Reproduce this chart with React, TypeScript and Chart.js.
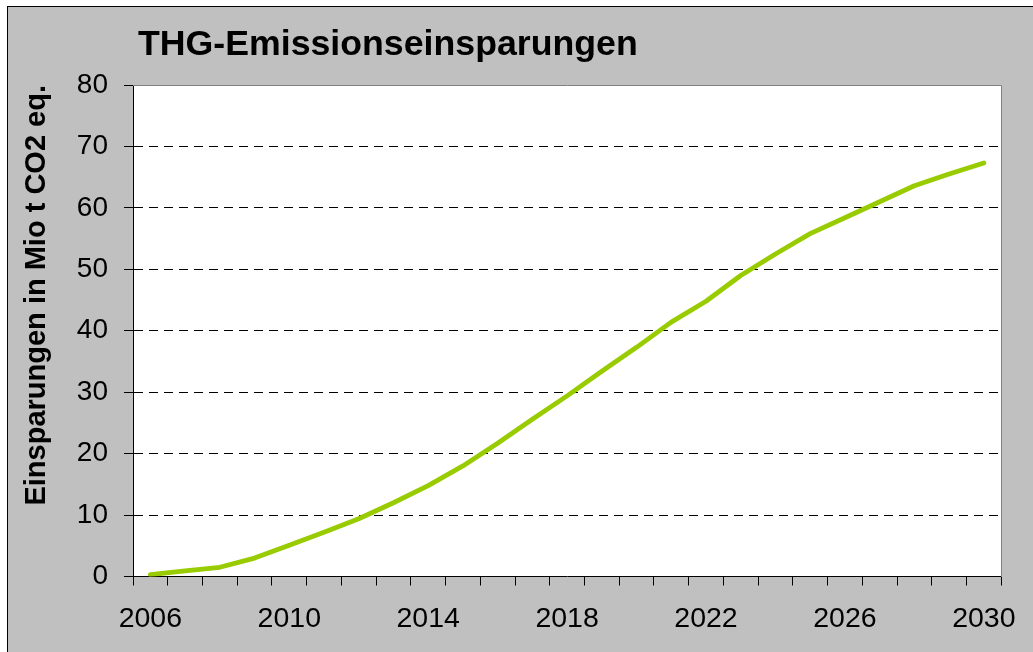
import React, { useEffect, useRef } from "react";
import { Chart, registerables } from "chart.js";

Chart.register(...registerables);

const CHART_TITLE = "THG-Emissionseinsparungen";
const Y_AXIS_TITLE = "Einsparungen in Mio t CO2 eq.";

const years = [
  2006, 2007, 2008, 2009, 2010, 2011, 2012, 2013, 2014, 2015, 2016, 2017, 2018,
  2019, 2020, 2021, 2022, 2023, 2024, 2025, 2026, 2027, 2028, 2029, 2030,
];

const savings = [
  0.3, 0.9, 1.5, 3.0, 5.1, 7.2, 9.4, 12.0, 14.8, 18.0, 21.7, 25.6, 29.4, 33.4,
  37.3, 41.4, 44.8, 49.0, 52.5, 55.8, 58.4, 61.0, 63.6, 65.5, 67.3,
];

const shownYearLabels = ["2006", "2010", "2014", "2018", "2022", "2026", "2030"];

const yMin = 0;
const yMax = 80;
const yStep = 10;

const FONT = "'Liberation Sans', Arial, sans-serif";

const plotDecor = {
  id: "plotDecor",
  beforeDraw(chart: any) {
    const { ctx, chartArea: a } = chart;
    ctx.save();
    ctx.fillStyle = "#ffffff";
    ctx.fillRect(a.left, a.top, a.right - a.left, a.bottom - a.top);
    ctx.restore();
  },
  beforeDatasetsDraw(chart: any) {
    const { ctx, chartArea: a } = chart;
    ctx.save();
    ctx.strokeStyle = "#808080";
    ctx.lineWidth = 1;
    ctx.beginPath();
    ctx.moveTo(Math.round(a.left), Math.round(a.top) + 0.5);
    ctx.lineTo(Math.round(a.right) + 0.5, Math.round(a.top) + 0.5);
    ctx.lineTo(Math.round(a.right) + 0.5, Math.round(a.bottom));
    ctx.stroke();
    ctx.restore();
  },
  afterDraw(chart: any) {
    const { ctx } = chart;
    ctx.save();
    ctx.fillStyle = "#000000";
    ctx.font = `bold 35.7px ${FONT}`;
    ctx.textAlign = "left";
    ctx.textBaseline = "alphabetic";
    ctx.fillText(CHART_TITLE, 130, 48);
    ctx.restore();
  },
};

export default function App() {
  const canvasRef = useRef<HTMLCanvasElement | null>(null);

  useEffect(() => {
    if (!canvasRef.current) return;
    const chart = new Chart(canvasRef.current, {
      type: "line",
      data: {
        labels: years.map(String),
        datasets: [
          {
            label: "Einsparungen",
            data: savings,
            borderColor: "#99cc00",
            backgroundColor: "#99cc00",
            borderWidth: 4.8,
            borderCapStyle: "round",
            borderJoinStyle: "round",
            pointRadius: 0,
            pointHoverRadius: 0,
            tension: 0,
            fill: false,
          },
        ],
      },
      options: {
        responsive: false,
        animation: false,
        devicePixelRatio: 1,
        layout: { padding: { top: 78, right: 23, bottom: 0, left: 8 } },
        plugins: {
          legend: { display: false },
          title: { display: false },
          tooltip: { enabled: false },
        },
        scales: {
          x: {
            type: "category",
            offset: true,
            afterFit(scale: any) {
              scale.height = 75.5;
            },
            grid: {
              offset: true,
              drawOnChartArea: false,
              drawTicks: true,
              tickLength: 9,
              tickColor: "#000000",
              color: "#000000",
            },
            border: { display: true, color: "#000000", width: 1 },
            ticks: {
              autoSkip: false,
              maxRotation: 0,
              minRotation: 0,
              padding: 17,
              color: "#000000",
              font: { family: FONT, size: 28.5 },
              callback: (_v: any, idx: number) => {
                const lab = String(years[idx]);
                return shownYearLabels.includes(lab) ? lab : "";
              },
            },
          },
          y: {
            min: yMin,
            max: yMax,
            afterFit(scale: any) {
              scale.width = 117;
            },
            grid: {
              drawOnChartArea: true,
              drawTicks: true,
              tickLength: 9,
              tickColor: "#000000",
              tickBorderDash: [],
              color: (c: any) =>
                c.tick && (c.tick.value === yMin || c.tick.value === yMax)
                  ? "rgba(0,0,0,0)"
                  : "#000000",
            },
            border: { display: true, color: "#000000", width: 1, dash: [9, 6] },
            ticks: {
              stepSize: yStep,
              padding: 16,
              color: "#000000",
              font: { family: FONT, size: 28 },
            },
            title: {
              display: true,
              text: Y_AXIS_TITLE,
              align: "end",
              color: "#000000",
              font: { family: FONT, size: 29, weight: "bold" },
              padding: { top: 4, bottom: 4 },
            },
          },
        },
      },
      plugins: [plotDecor],
    } as any);
    return () => chart.destroy();
  }, []);

  return (
    <div
      style={{
        position: "fixed",
        left: 7,
        top: 6,
        width: 1040,
        height: 660,
        border: "1px solid #000000",
        background: "#c0c0c0",
        overflow: "hidden",
      }}
    >
      <canvas
        ref={canvasRef}
        width={1025}
        height={645}
        style={{ display: "block", width: 1025, height: 645 }}
      />
    </div>
  );
}
